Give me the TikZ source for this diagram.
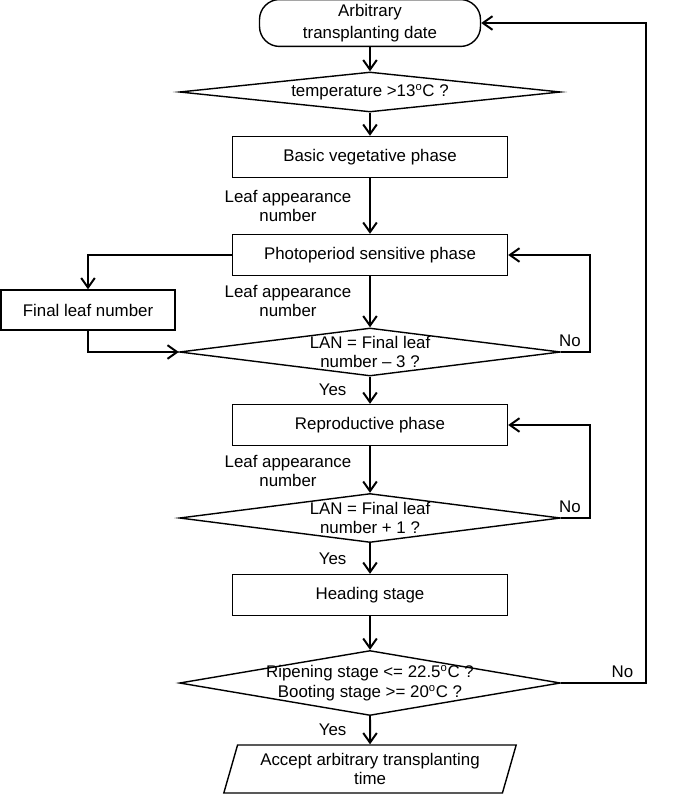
\documentclass[tikz,border=0pt]{standalone}
\usepackage{fontspec}
\setmainfont{Liberation Sans}
\usepackage{tikz}
\usetikzlibrary{shapes.geometric,arrows.meta}

\begin{document}
\begin{tikzpicture}[auto, node distance=2cm, >={Straight Barb[length=2.4mm,width=3.4mm]},
  font=\fontsize{12}{14}\selectfont]
\tikzset{%
  stage/.style = {%
    draw,
    line width = 1pt,
    minimum width = 6.875cm,
    minimum height = 1.025cm
  },
  decision/.style = {%
    draw,
    line width = 1pt,
    diamond,
    inner sep = 0pt,
    minimum width = 9.525cm
  },
  note/.style = {align=center, inner sep=0pt},
  flow/.style = {->, line width=1.4pt}
}
  \useasboundingbox (0,0) rectangle (17.05,-19.95);

  \node[draw, line width=1pt, rounded corners=.5cm, minimum width=5.525cm,
    minimum height=1.075cm, align=center, font=\fontsize{12}{15.5}\selectfont]
    (start) at (9.25,-.575) {Arbitrary\\transplanting date};
  \node[decision, minimum height=1cm, node distance=1.725cm, below of=start,
    label={center:{temperature >13\textsuperscript{o}C ?}}] (temp) {};
  \node[stage, node distance=1.625cm, below of=temp] (basic)
    {Basic vegetative phase};
  \node[stage, node distance=2.45cm, below of=basic] (photo)
    {Photoperiod sensitive phase};
  \node[draw, line width=1pt, minimum width=4.35cm, minimum height=1cm,
    yshift=-1.375cm, node distance=7.05cm, left of=photo] (final)
    {Final leaf number};
  \node[decision, minimum height=1.2cm, node distance=2.425cm, below of=photo,
    label={[align=center]center:{LAN = Final leaf\\number -- 3 ?}}] (lanthree) {};
  \node[stage, node distance=1.825cm, below of=lanthree] (repro)
    {Reproductive phase};
  \node[decision, minimum height=1.225cm, node distance=2.325cm, below of=repro,
    label={[align=center]center:{LAN = Final leaf\\number + 1 ?}}] (lanone) {};
  \node[stage, node distance=1.925cm, below of=lanone] (heading)
    {Heading stage};
  \node[decision, minimum height=1.625cm, node distance=2.2cm, below of=heading,
    label={[align=center]center:{Ripening stage <= 22.5\textsuperscript{o}C ?\\
      Booting stage >= 20\textsuperscript{o}C ?}}] (ripen) {};
  \node[draw, line width=1pt, trapezium, trapezium left angle=74,
    trapezium right angle=106, minimum width=7.1cm, minimum height=1.2cm,
    align=center, node distance=2.15cm, below of=ripen] (accept)
    {Accept arbitrary transplanting\\time};

  % leaf appearance notes
  \node[note, node distance=1.225cm, below of=basic, xshift=-2.05cm] (lanbasic)
    {Leaf appearance\\number};
  \node[note, node distance=1.15cm, below of=photo, xshift=-2.05cm] (lanphoto)
    {Leaf appearance\\number};
  \node[note, node distance=1.15cm, below of=repro, xshift=-2.05cm] (lanrepro)
    {Leaf appearance\\number};

  \draw[flow] (start) -- (temp);
  \draw[flow] (temp) -- (basic);
  \draw[flow] (basic) -- (photo);
  \draw[flow] (photo) -- (lanthree);
  \draw[flow] (photo.west) -| (final.north);
  \draw[flow] (final.south) |- (lanthree.west);
  \draw[flow] (lanthree) -- node[left=.45cm] {Yes} (repro);
  \draw[flow] (lanthree.east) -- node[pos=.3, above] {No} ++(.725,0) |- (photo.east);
  \draw[flow] (repro) -- (lanone);
  \draw[flow] (lanone) -- node[left=.45cm] {Yes} (heading);
  \draw[flow] (lanone.east) -- node[pos=.3, above] {No} ++(.725,0) |- (repro.east);
  \draw[flow] (heading) -- (ripen);
  \draw[flow] (ripen) -- node[left=.45cm] {Yes} (accept);
  \draw[flow] (ripen.east) -- node[pos=.72, above] {No} ++(2.125,0) |- (start.east);
\end{tikzpicture}
\end{document}
